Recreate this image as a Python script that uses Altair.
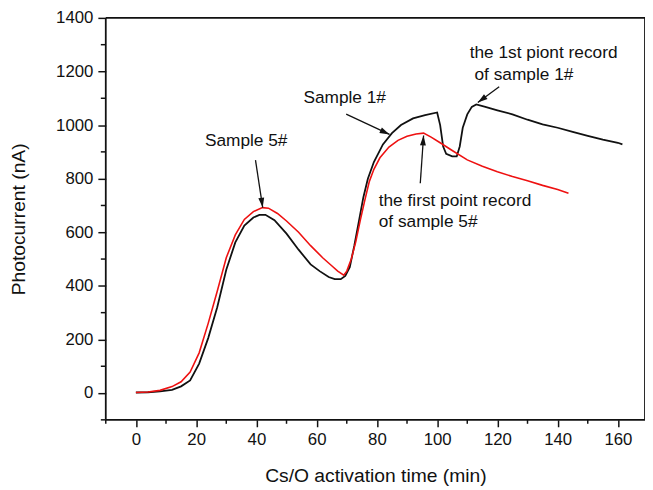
import math
import altair as alt
import pandas as pd

# ---------------- data ----------------
s1_t = [0, 4, 8, 12, 15, 18, 21, 24, 27, 30, 33, 36, 39, 41, 43, 46, 50, 54, 58, 61, 64, 66, 68,
        69.5, 71, 72.5, 74, 75.5, 77, 79, 82, 85, 88, 92, 96, 100, 101, 102, 103, 105, 106.5,
        107.5, 108.5, 110, 111.5, 113, 116, 120, 125, 130, 135, 140, 145, 150, 155, 160, 161.5]
s1_v = [2, 3, 6, 12, 25, 47, 110, 205, 320, 460, 562, 625, 655, 665, 665, 645, 595, 535, 480, 455, 433, 425, 425,
        437, 470, 550, 640, 730, 800, 862, 928, 970, 1000, 1025, 1037, 1047, 1000, 920, 893, 883, 883,
        920, 990, 1040, 1068, 1077, 1068, 1055, 1040, 1020, 1003, 990, 975, 960, 946, 934, 928]

s5_t = [0, 4, 8, 12, 15, 18, 21, 24, 27, 30, 33, 36, 39, 42, 44, 47, 50, 54, 58, 62, 65, 67, 69,
        70, 71.5, 73, 74.5, 76, 77.5, 79, 81, 84, 87, 90, 93, 95.5, 98, 101, 105, 110, 115, 120,
        125, 130, 135, 140, 143.6]
s5_v = [2, 4, 10, 24, 42, 78, 150, 260, 380, 505, 590, 648, 677, 692, 690, 670, 642, 600, 550, 505, 475, 455, 440,
        455, 500, 565, 645, 720, 790, 835, 878, 918, 943, 958, 967, 970, 955, 934, 905, 870, 846, 826,
        808, 792, 775, 760, 746]

x_major = list(range(0, 161, 20))
x_minor = list(range(-10, 169, 20))
y_major = list(range(0, 1401, 200))
y_minor = list(range(-100, 1400, 200))

ann_text = ["Sample 5#", "Sample 1#", "the first point record", "of sample 5#",
            "the 1st piont record", "of sample 1#"]
ann_x = [22.9, 55.6, 80.6, 80.6, 110.8, 112.4]
ann_y = [922, 1084, 697, 620, 1250, 1170]

arr_x1 = [39.7, 69.8, 94.4, 120.6]
arr_y1 = [869, 1041, 783, 1143]
arr_x2 = [42.1, 84.2, 95.5, 113.5]
arr_y2 = [692, 965, 961, 1084]

# ---------------- layout ----------------
X_DOM = [-10, 169]
Y_DOM = [-100, 1400]
W, H = 546, 407
FONT = "Liberation Sans"
INK = "#111"

kx = W / (X_DOM[1] - X_DOM[0])
ky = H / (Y_DOM[1] - Y_DOM[0])

df1 = pd.DataFrame({"t": s1_t, "v": s1_v})
df5 = pd.DataFrame({"t": s5_t, "v": s5_v})
ann = pd.DataFrame({"text": ann_text, "x": ann_x, "y": ann_y})
angles = []
for a, b, c, d in zip(arr_x1, arr_y1, arr_x2, arr_y2):
    dx = (c - a) * kx
    dy = -(d - b) * ky
    angles.append(math.degrees(math.atan2(dx, -dy)) % 360)
arr = pd.DataFrame({"x1": arr_x1, "y1": arr_y1, "x2": arr_x2, "y2": arr_y2, "angle": angles})

# plot frame (left, bottom, top, right edges of the domain box)
frame = pd.DataFrame({
    "x1": [X_DOM[0], X_DOM[0], X_DOM[0], X_DOM[1]],
    "x2": [X_DOM[0], X_DOM[1], X_DOM[1], X_DOM[1]],
    "y1": [Y_DOM[0], Y_DOM[0], Y_DOM[1], Y_DOM[0]],
    "y2": [Y_DOM[1], Y_DOM[0], Y_DOM[1], Y_DOM[1]],
})

xs = alt.Scale(domain=X_DOM, nice=False, zero=False)
ys = alt.Scale(domain=Y_DOM, nice=False, zero=False)

axis_common = dict(
    labelFont=FONT, labelFontSize=17, labelColor=INK, format="d",
    titleFont=FONT, titleFontSize=19.5, titleFontWeight="normal", titleColor=INK,
    domain=False, tickColor=INK, tickWidth=1.5, grid=False,
)

x_axis = alt.Axis(title="Cs/O activation time (min)", values=x_major, tickSize=7,
                  labelPadding=5, titlePadding=19, **axis_common)
y_axis = alt.Axis(title="Photocurrent (nA)", values=y_major, tickSize=8,
                  labelPadding=5, titlePadding=27, **axis_common)

black = alt.Chart(df1).mark_line(color=INK, strokeWidth=1.8, clip=True).encode(
    x=alt.X("t:Q", scale=xs, axis=x_axis),
    y=alt.Y("v:Q", scale=ys, axis=y_axis),
    order="t:Q",
)
red = alt.Chart(df5).mark_line(color="#ee1111", strokeWidth=1.6, clip=True).encode(
    x=alt.X("t:Q", scale=xs),
    y=alt.Y("v:Q", scale=ys),
    order="t:Q",
)

frame_layer = alt.Chart(frame).mark_rule(color=INK, strokeWidth=1.8).encode(
    x=alt.X("x1:Q", scale=xs), x2="x2:Q",
    y=alt.Y("y1:Q", scale=ys), y2="y2:Q",
)

# minor ticks
xmin_df = pd.DataFrame({"t": x_minor})
ymin_df = pd.DataFrame({"v": y_minor})
xminor = alt.Chart(xmin_df).mark_rule(color=INK, strokeWidth=1.5).encode(
    x=alt.X("t:Q", scale=xs), y=alt.value(H), y2=alt.value(H + 4),
)
yminor = alt.Chart(ymin_df).mark_rule(color=INK, strokeWidth=1.5).encode(
    y=alt.Y("v:Q", scale=ys), x=alt.value(0), x2=alt.value(-5),
)

texts = alt.Chart(ann).mark_text(
    font=FONT, fontSize=17.5, align="left", baseline="alphabetic", color=INK
).encode(x=alt.X("x:Q", scale=xs), y=alt.Y("y:Q", scale=ys), text="text:N")

rules = alt.Chart(arr).mark_rule(color=INK, strokeWidth=1.3).encode(
    x=alt.X("x1:Q", scale=xs), y=alt.Y("y1:Q", scale=ys),
    x2="x2:Q", y2="y2:Q",
)
heads = alt.Chart(arr).mark_point(
    shape="M0,0L-0.6,2L0.6,2Z", filled=True, color=INK, size=100, opacity=1
).encode(
    x=alt.X("x2:Q", scale=xs), y=alt.Y("y2:Q", scale=ys), angle=alt.Angle("angle:Q", scale=None),
)

chart = alt.layer(black, red, frame_layer, xminor, yminor, rules, heads, texts).properties(
    width=W, height=H,
    autosize=alt.AutoSizeParams(type="none"),
    padding={"left": 99, "top": 7, "right": 0, "bottom": 66},
    background="white",
).configure_view(stroke=None)

chart.save("out.html", embed_options={"renderer": "svg", "actions": False})
